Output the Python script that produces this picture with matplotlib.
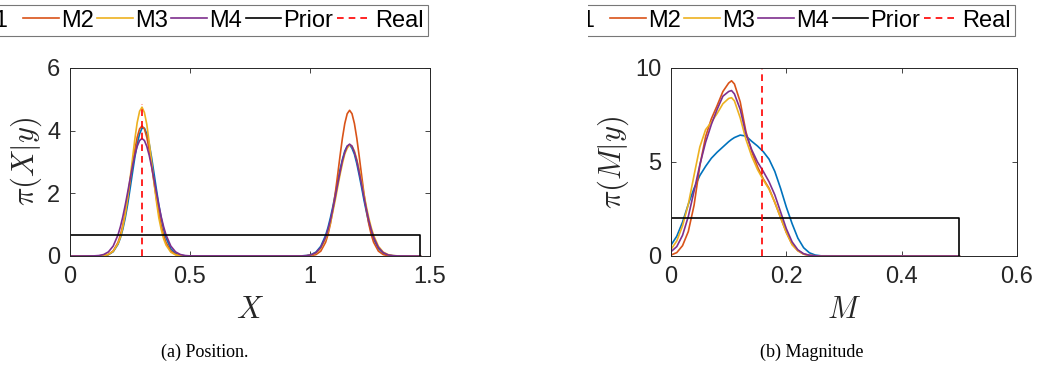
import numpy as np
import matplotlib
matplotlib.use('Agg')
import matplotlib.pyplot as plt
import matplotlib.patches as pc

plt.rcParams['font.family'] = ['Liberation Sans', 'DejaVu Sans']
plt.rcParams['mathtext.fontset'] = 'cm'

# ---- data: position posterior (a) ----
x_pos = [0.0,
         0.10, 0.12, 0.14, 0.16, 0.18,
         0.20, 0.21, 0.22, 0.23, 0.24, 0.25, 0.26, 0.27, 0.28, 0.29, 0.30,
         0.31, 0.32, 0.33, 0.34, 0.35, 0.36, 0.37, 0.38, 0.39, 0.40,
         0.42, 0.44, 0.46, 0.48, 0.50,
         0.965, 0.985, 1.005, 1.025, 1.045,
         1.065, 1.075, 1.085, 1.095, 1.105, 1.115, 1.125, 1.135, 1.145, 1.155, 1.165,
         1.175, 1.185, 1.195, 1.205, 1.215, 1.225, 1.235, 1.245, 1.255, 1.265,
         1.285, 1.305, 1.325, 1.345, 1.365,
         1.46]
m1_pos = [0.0,
          0.0004, 0.0024, 0.011, 0.043, 0.138,
          0.375, 0.579, 0.855, 1.21, 1.64, 2.13, 2.64, 3.14, 3.58, 3.90, 4.08,
          4.08, 3.90, 3.58, 3.14, 2.64, 2.13, 1.64, 1.21, 0.855, 0.58,
          0.23, 0.079, 0.022, 0.005, 0.001,
          0.004, 0.014, 0.045, 0.125, 0.31,
          0.66, 0.91, 1.22, 1.57, 1.96, 2.36, 2.75, 3.08, 3.35, 3.50, 3.55,
          3.44, 3.25, 2.95, 2.58, 2.19, 1.78, 1.41, 1.06, 0.79, 0.54,
          0.24, 0.09, 0.03, 0.009, 0.002,
          0.0]
m2_pos = [0.0,
          0.0005, 0.0027, 0.0127, 0.049, 0.159,
          0.432, 0.664, 0.974, 1.369, 1.837, 2.357, 2.89, 3.385, 3.79, 4.057, 4.15,
          4.057, 3.79, 3.385, 2.89, 2.357, 1.837, 1.369, 0.974, 0.664, 0.432,
          0.159, 0.049, 0.0127, 0.0027, 0.0005,
          0.0004, 0.0022, 0.011, 0.045, 0.155,
          0.438, 0.686, 1.025, 1.461, 1.985, 2.576, 3.185, 3.759, 4.23, 4.541, 4.65,
          4.541, 4.23, 3.759, 3.185, 2.576, 1.985, 1.461, 1.025, 0.686, 0.438,
          0.155, 0.045, 0.011, 0.0022, 0.0004,
          0.0]
m3_pos = [0.0,
          0.001, 0.004, 0.015, 0.05, 0.15,
          0.40, 0.60, 0.92, 1.32, 1.85, 2.45, 3.08, 3.72, 4.26, 4.62, 4.75,
          4.58, 4.20, 3.62, 3.00, 2.35, 1.75, 1.22, 0.85, 0.55, 0.35,
          0.12, 0.035, 0.009, 0.002, 0.0005,
          0.002, 0.008, 0.03, 0.092, 0.24,
          0.54, 0.79, 1.05, 1.41, 1.78, 2.19, 2.59, 2.95, 3.26, 3.44, 3.55,
          3.50, 3.35, 3.08, 2.76, 2.36, 1.96, 1.57, 1.21, 0.91, 0.66,
          0.31, 0.125, 0.045, 0.014, 0.004,
          0.0]
m4_pos = [0.0,
          0.004, 0.0145, 0.0465, 0.130, 0.318,
          0.675, 0.935, 1.252, 1.619, 2.023, 2.443, 2.85, 3.214, 3.50, 3.686, 3.75,
          3.686, 3.50, 3.214, 2.85, 2.443, 2.023, 1.619, 1.252, 0.935, 0.675,
          0.318, 0.130, 0.0465, 0.0145, 0.004,
          0.003, 0.011, 0.037, 0.108, 0.274,
          0.599, 0.845, 1.136, 1.492, 1.871, 2.288, 2.67, 3.041, 3.31, 3.507, 3.57,
          3.507, 3.31, 3.041, 2.67, 2.288, 1.871, 1.492, 1.136, 0.845, 0.599,
          0.274, 0.108, 0.037, 0.011, 0.003,
          0.0]
prior_pos = [0.0, 1.46]
prior_pos_h = 0.685
real_pos = 0.30
real_pos_top = 4.85

# ---- data: magnitude posterior (b) ----
x_mag = [0.00, 0.01, 0.02, 0.03, 0.04, 0.05, 0.06, 0.07, 0.08, 0.09,
         0.10, 0.105, 0.11, 0.12, 0.13, 0.14, 0.15, 0.16, 0.17, 0.18, 0.19,
         0.20, 0.21, 0.22, 0.23, 0.24, 0.25, 0.26, 0.50]
m1_mag = [0.58, 1.05, 1.8, 2.75, 3.6, 4.28, 4.77, 5.2, 5.52, 5.8,
          6.08, 6.2, 6.3, 6.43, 6.38, 6.1, 5.85, 5.55, 5.15, 4.5, 3.6,
          2.6, 1.72, 0.95, 0.44, 0.17, 0.05, 0.01, 0.0]
m2_mag = [0.05, 0.18, 0.55, 1.3, 2.7, 4.8, 6.35, 7.3, 8.0, 8.75,
          9.2, 9.32, 9.15, 8.2, 6.6, 5.55, 4.75, 4.1, 3.6, 2.85, 2.05,
          1.25, 0.62, 0.28, 0.1, 0.03, 0.01, 0.0, 0.0]
m3_mag = [0.35, 0.8, 1.6, 2.75, 4.3, 5.8, 6.72, 7.12, 7.58, 8.1,
          8.38, 8.42, 8.25, 7.35, 6.2, 5.3, 4.6, 4.05, 3.55, 2.85, 2.05,
          1.25, 0.6, 0.28, 0.1, 0.03, 0.01, 0.0, 0.0]
m4_mag = [0.23, 0.5, 1.1, 2.1, 3.45, 4.85, 6.05, 7.0, 7.8, 8.5,
          8.75, 8.8, 8.62, 7.8, 6.5, 5.65, 5.0, 4.5, 3.95, 3.25, 2.35,
          1.45, 0.75, 0.33, 0.12, 0.04, 0.01, 0.0, 0.0]
prior_mag = [0.0, 0.5]
prior_mag_h = 2.0
real_mag = 0.158
real_mag_top = 10.0

labels = ['M1\u2002', 'M2', 'M3', 'M4', 'Prior', 'Real']
colors = ['#0072BD', '#D95319', '#EDB120', '#7E2F8E']
axcol = '#262626'

W, H = 1037, 376
fig = plt.figure(figsize=(W / 100, H / 100), dpi=100)

ax1 = fig.add_axes([70 / W, 1 - 256 / H, 360 / W, 188 / H])
ax2 = fig.add_axes([671 / W, 1 - 256 / H, 346 / W, 188 / H])


def draw_panel(ax, x, series, prior, prior_h, real, real_top):
    for y, c, lab in zip(series, colors, labels):
        ax.plot(x, y, color=c, lw=1.2, label=lab)
    ax.plot([prior[0], prior[0], prior[1], prior[1]], [0, prior_h, prior_h, 0],
            color='k', lw=1.2, label='Prior')
    ax.plot([real, real], [0, real_top], color='r', ls=(0, (4, 3)), lw=1.2,
            label='Real', clip_on=False)
    ax.tick_params(direction='in', top=True, right=True, length=3.5, width=0.6,
                   labelsize=17, colors=axcol, pad=7)
    for s in ax.spines.values():
        s.set_color(axcol)
        s.set_linewidth(0.7)


draw_panel(ax1, x_pos, [m1_pos, m2_pos, m3_pos, m4_pos], prior_pos, prior_pos_h,
           real_pos, real_pos_top)
ax1.set_xlim(0, 1.5)
ax1.set_ylim(0, 6)
ax1.set_xticks([0, 0.5, 1, 1.5])
ax1.set_xticklabels(['0', '0.5', '1', '1.5'])
ax1.set_yticks([0, 2, 4, 6])
ax1.set_xlabel('$X$', fontsize=22, color=axcol, labelpad=5)
ax1.set_ylabel(r'$\pi(X|y)$', fontsize=22, color=axcol, labelpad=2)

draw_panel(ax2, x_mag, [m1_mag, m2_mag, m3_mag, m4_mag], prior_mag, prior_mag_h,
           real_mag, real_mag_top)
ax2.set_xlim(0, 0.6)
ax2.set_ylim(0, 10)
ax2.set_xticks([0, 0.2, 0.4, 0.6])
ax2.set_xticklabels(['0', '0.2', '0.4', '0.6'])
ax2.set_yticks([0, 5, 10])
ax2.set_xlabel('$M$', fontsize=22, color=axcol, labelpad=5)
ax2.set_ylabel(r'$\pi(M|y)$', fontsize=22, color=axcol, labelpad=3)

# horizontal legends above each panel, cut on the left like the original
for ax, xr in [(ax1, 428), (ax2, 1015)]:
    leg = ax.legend(loc='upper right', bbox_to_anchor=(xr / W, 1 - 5 / H),
                    bbox_transform=fig.transFigure, ncol=6, fontsize=17,
                    handlelength=1.5, handletextpad=0.1, columnspacing=0.15,
                    borderpad=0.2, borderaxespad=0, frameon=True, fancybox=False)
    leg.get_frame().set_edgecolor('#555555')
    leg.get_frame().set_linewidth(0.8)

fig.add_artist(pc.Rectangle((500 / W, 1 - 46 / H), 88 / W, 46 / H,
                            transform=fig.transFigure, facecolor='white',
                            edgecolor='none', zorder=10))

fig.text(205 / W, 1 - 352 / H, '(a) Position.', ha='center', va='center',
         fontsize=13, family='Liberation Serif')
fig.text(812 / W, 1 - 352 / H, '(b) Magnitude', ha='center', va='center',
         fontsize=13, family='Liberation Serif')

fig.savefig('out.png', dpi=100)
